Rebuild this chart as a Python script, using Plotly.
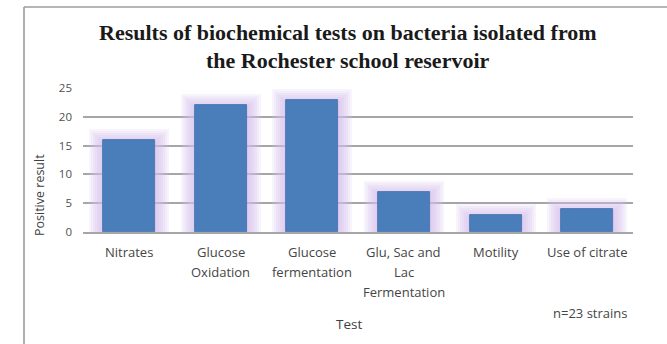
import plotly.graph_objects as go

categories = ["Nitrates", "Glucose\nOxidation", "Glucose\nfermentation",
              "Glu, Sac and\nLac\nFermentation", "Motility", "Use of citrate"]
positive = [16, 22, 23, 7, 3, 4]
y_ticks = [0, 5, 10, 15, 20, 25]

title_lines = ["Results of biochemical tests on bacteria isolated from",
               "the Rochester school reservoir"]
x_title = "Test"
y_title = "Positive result"
note = "n=23 strains"

W, H = 667, 344
ML, MR, MT, MB = 83, 34, 88, 112
PW, PH = W - ML - MR, H - MT - MB
Y0 = H - MB  # pixel of y=0
PX_PER_UNIT = PH / 25.0
CAT_PX = PW / len(categories)
BAR_W = 52 / CAT_PX

def px_x(px):
    return (px - ML) / PW

def px_y(py):
    return (Y0 - py) / PH

idx = list(range(len(categories)))
fig = go.Figure()

# soft glow layers (behind bars)
for k in [14, 12, 10, 8, 6, 4, 2]:
    fig.add_trace(go.Bar(
        x=idx, y=[v + k / PX_PER_UNIT for v in positive],
        base=-3 / PX_PER_UNIT,
        width=BAR_W + 2 * k / CAT_PX,
        marker=dict(color="rgba(214,188,238,0.17)", line=dict(width=0)),
        hoverinfo="skip", showlegend=False))

fig.add_trace(go.Bar(
    x=idx, y=positive, width=BAR_W,
    marker=dict(color="#4a7ebb", line=dict(color="#3f6fa8", width=0.8)),
    showlegend=False))

ann = []
sans = "Open Sans"
for i, lab in enumerate(categories):
    for j, line in enumerate(lab.split("\n")):
        ann.append(dict(x=i, xref="x", y=px_y(252 + 20 * j), yref="paper",
                        text=line, showarrow=False, xanchor="center", yanchor="middle",
                        font=dict(family=sans, size=13, color="#454545")))

ann.append(dict(x=px_x(349), y=px_y(324), xref="paper", yref="paper", text=x_title,
                showarrow=False, xanchor="center", yanchor="middle",
                font=dict(family=sans, size=13.5, color="#404040")))
ann.append(dict(x=px_x(590), y=px_y(313), xref="paper", yref="paper", text=note,
                showarrow=False, xanchor="center", yanchor="middle",
                font=dict(family=sans, size=13, color="#454545")))
ann.append(dict(x=px_x(39), y=px_y(195), xref="paper", yref="paper", text=y_title,
                showarrow=False, xanchor="center", yanchor="middle", textangle=-90,
                font=dict(family=sans, size=12.5, color="#404040")))
for j, (line, py) in enumerate(zip(title_lines, [32, 60])):
    ann.append(dict(x=px_x(348), y=px_y(py), xref="paper", yref="paper", text=line,
                    showarrow=False, xanchor="center", yanchor="middle",
                    font=dict(family="Liberation Serif", size=22, color="#1a1a1a",
                              weight="bold")))

shapes = [
    dict(type="line", xref="paper", yref="paper", x0=px_x(24), x1=px_x(24),
         y0=px_y(H + 5), y1=px_y(7), line=dict(color="#9c9c9c", width=1.6)),
    dict(type="line", xref="paper", yref="paper", x0=px_x(24), x1=px_x(W + 5),
         y0=px_y(7), y1=px_y(7), line=dict(color="#9c9c9c", width=1.6)),
]

fig.update_layout(
    width=W, height=H, margin=dict(l=ML, r=MR, t=MT, b=MB),
    paper_bgcolor="white", plot_bgcolor="white",
    barmode="overlay", bargap=0,
    annotations=ann, shapes=shapes,
    xaxis=dict(range=[-0.5, len(categories) - 0.5], showticklabels=False,
               showgrid=False, showline=True, linecolor="#a6a6a6", linewidth=1.5,
               zeroline=False, fixedrange=True),
    yaxis=dict(range=[0, 25], tickvals=y_ticks, showgrid=True, gridcolor="#a6a6a6",
               gridwidth=1.5, zeroline=False, showline=False, ticks="",
               ticklabelstandoff=10,
               tickfont=dict(family=sans, size=11.5, color="#505050"), fixedrange=True),
)
fig.write_html("out.html")
